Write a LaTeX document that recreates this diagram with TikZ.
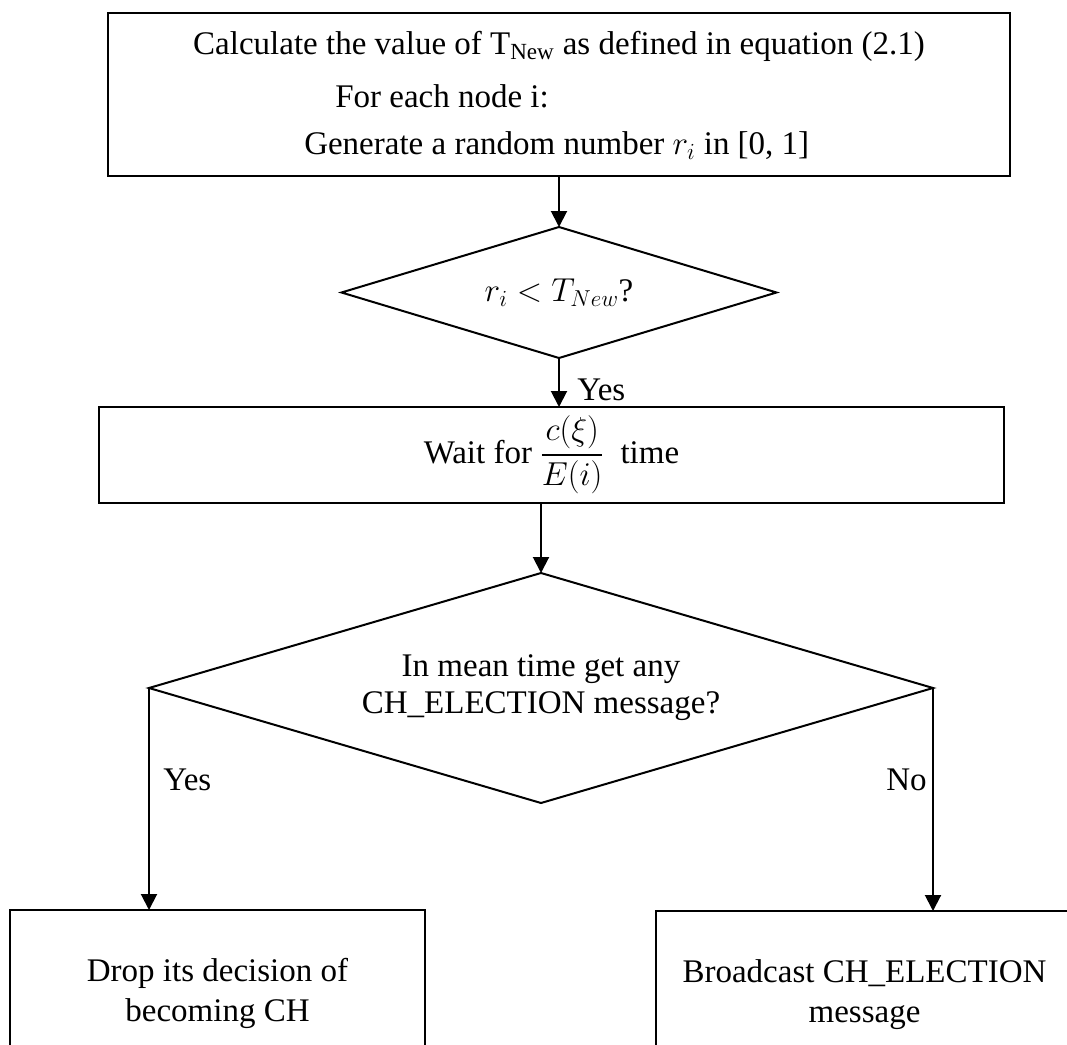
\documentclass[tikz,border=0pt]{standalone}
\usepackage{amsmath}
\usepackage{fontspec}
\setmainfont{Liberation Serif}
\usetikzlibrary{shapes.geometric,arrows.meta}
\begin{document}
\begin{tikzpicture}[x=0.75pt,y=-0.75pt,
  every node/.style={font=\fontsize{24.75pt}{30pt}\selectfont, text=black},
  boxst/.style={draw, line width=1.5pt, inner sep=0pt, outer sep=0pt},
  decst/.style={draw, diamond, line width=1.5pt, inner sep=0pt, outer sep=0pt, shape aspect=3.3},
  arr/.style={line width=1.5pt, -{Triangle[length=12pt,width=12pt]}},
  lbl/.style={inner sep=0pt}]
\useasboundingbox (0,0) rectangle (1067,1045);
\clip (0,0) rectangle (1067,1045);
\fill[white] (0,0) rectangle (1067,1045);

% top box
\node[boxst, minimum width=676.5pt, minimum height=122.25pt] (top) at (559,94.5) {};
\node[lbl, anchor=base] (t1) at (559,55) {Calculate the value of T\textsubscript{New} as defined in equation (2.1)};
\node[lbl, anchor=base west] (t2) at (335,108) {For each node i:};
\node[lbl, anchor=base west] (t3) at (304,155) {Generate a random number $r_i$ in [0, 1]};

% first decision
\node[decst, minimum width=326.25pt, minimum height=98.25pt] (d1) at (559,292.5) {$r_i < T_{New}$?};

% wait box
\node[boxst, minimum width=678.75pt, minimum height=72pt] (wait) at (551.5,455) {Wait for $\dfrac{c(\xi)}{E(i)}$\ \ time};

% second decision
\node[decst, minimum width=588pt, minimum height=172.5pt, align=center,
      font=\fontsize{24.75pt}{27.75pt}\selectfont] (d2) at (541,688) {In mean time get any\\CH\_ELECTION message?};

% bottom boxes
\node[boxst, minimum width=311.25pt, minimum height=142.5pt] (lbox) at (217.5,1005) {};
\node[lbl, align=center] (ltext) at (217.5,993) {Drop its decision of\\becoming CH};
\node[boxst, minimum width=312.75pt, minimum height=142.5pt] (rbox) at (864.5,1006) {};
\node[lbl, align=center] (rtext) at (864.5,995) {Broadcast CH\_ELECTION\\message};

% connectors
\draw[arr] (top.south) -- (d1.north);
\draw[arr] (d1.south) -- (d1.south |- wait.north);
\draw[arr] (d2.north |- wait.south) -- (d2.north);
\draw[arr] (d2.west) -- (d2.west |- lbox.north);
\draw[arr] (d2.east) -- (d2.east |- rbox.north);

% labels
\node[lbl, anchor=base west] (y1) at (577,400) {Yes};
\node[lbl, anchor=base west] (y2) at (163,790) {Yes};
\node[lbl, anchor=base east] (n2) at (927,790) {No};
\end{tikzpicture}
\end{document}
